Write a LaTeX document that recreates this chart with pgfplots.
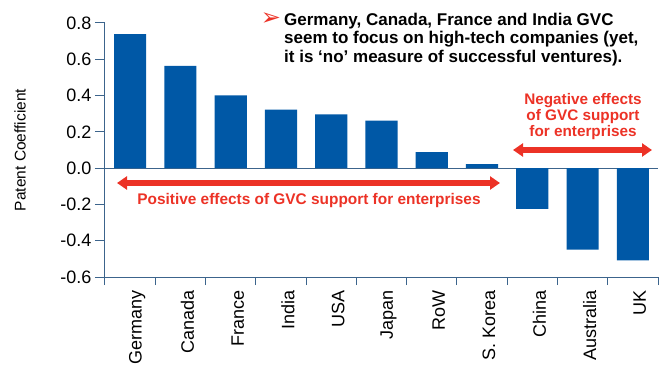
\documentclass[border=0pt]{standalone}
\usepackage{pgfplots}
\pgfplotsset{compat=1.18}
\usepackage{fontspec}
\setmainfont{Liberation Sans}
\newfontfamily\dejavu{DejaVu Sans}
\usetikzlibrary{arrows.meta}
\definecolor{barblue}{RGB}{0,88,166}
\definecolor{axblue}{RGB}{60,100,140}
\definecolor{annred}{RGB}{236,50,38}

\begin{document}
\begin{tikzpicture}[x=1pt,y=1pt]
\useasboundingbox (0,0) rectangle (659,367);
\begin{axis}[
  at={(105pt,90pt)}, anchor=south west, scale only axis,
  width=553pt, height=254pt,
  xmin=-0.5, xmax=10.5, ymin=-0.6, ymax=0.8,
  axis x line*=bottom, axis y line*=left,
  axis line style={axblue, line width=1pt},
  xtick={0,1,2,3,4,5,6,7,8,9,10},
  xticklabels={Germany,Canada,France,India,USA,Japan,RoW,S. Korea,China,Australia,UK},
  major x tick style={draw=none},
  minor xtick={-0.5,0.5,1.5,2.5,3.5,4.5,5.5,6.5,7.5,8.5,9.5,10.5},
  minor x tick style={axblue, line width=1pt},
  minor tick length=8pt,
  major tick length=10pt,
  tick align=outside,
  ytick={-0.6,-0.4,-0.2,0,0.2,0.4,0.6,0.8},
  y tick style={axblue, line width=1pt},
  extra y ticks={0}, extra y tick labels={},
  extra y tick style={grid=major, major grid style={axblue, line width=1pt}},
  x tick label style={xshift=7pt, rotate=90, anchor=east, font=\fontsize{18}{20}\selectfont},
  y tick label style={font=\fontsize{18}{20}\selectfont,
    /pgf/number format/assume math mode=true,
    /pgf/number format/fixed, /pgf/number format/precision=1,
    /pgf/number format/fixed zerofill},
  ybar, bar width=0.64, bar shift=0pt,
  clip=false,
]
\addplot[fill=barblue, draw=none] coordinates {
  (0,0.738) (1,0.564) (2,0.401) (3,0.322) (4,0.297) (5,0.262)
  (6,0.088) (7,0.022) (8,-0.225) (9,-0.449) (10,-0.508)};
\end{axis}
\node[rotate=90, font=\fontsize{15.5}{15.5}\selectfont] at (20, 217) {Patent Coefficient};
\node[anchor=north west, inner sep=0pt, align=left, font=\bfseries\fontsize{17}{18.3}\selectfont] at (284, 354)
  {Germany, Canada, France and India GVC\\seem to focus on high-tech companies (yet,\\it is ‘no’ measure of successful ventures).};
\node[annred, font=\dejavu\fontsize{24}{24}\selectfont] at (271, 348) {➢};
\node[annred, align=center, font=\bfseries\fontsize{15.3}{16}\selectfont] at (583, 250) {Negative effects\\of GVC support\\for enterprises};
\draw[annred, line width=6pt, {Triangle[length=10pt,width=13pt]}-{Triangle[length=10pt,width=13pt]}] (513,217) -- (652,217);
\draw[annred, line width=6pt, {Triangle[length=10pt,width=13pt]}-{Triangle[length=10pt,width=13pt]}] (117,184) -- (500,184);
\node[annred, font=\bfseries\fontsize{15.4}{16}\selectfont] at (309, 166.5) {Positive effects of GVC support for enterprises};
\end{tikzpicture}
\end{document}
